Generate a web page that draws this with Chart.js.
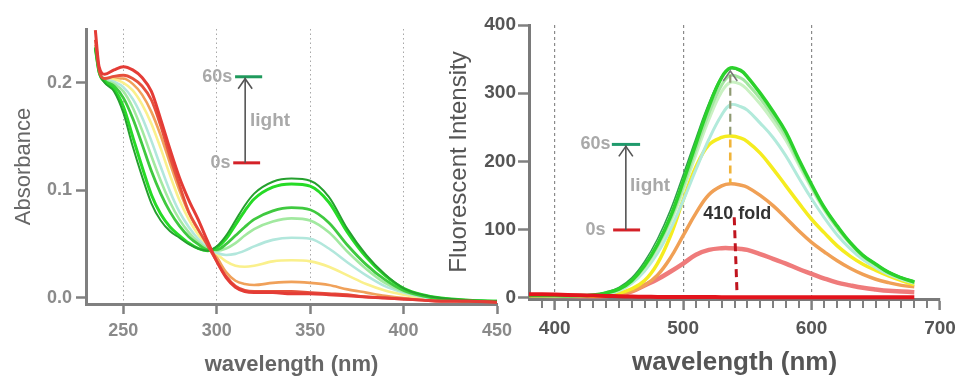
<!DOCTYPE html>
<html>
<head>
<meta charset="utf-8">
<script src="https://cdn.jsdelivr.net/npm/chart.js@4.4.0/dist/chart.umd.min.js"></script>
<style>
    html, body { margin: 0; padding: 0; background: #fff; }
    #wrap { position: relative; width: 960px; height: 378px; overflow: hidden; }
    #absBox { position: absolute; left: 0; top: 0; }
    #flBox { position: absolute; left: 440px; top: 0; }
</style>
</head>
<body>
<div id="wrap">
    <div id="absBox"><canvas id="absChart" width="520" height="378"></canvas></div>
    <div id="flBox"><canvas id="flChart" width="530" height="378"></canvas></div>
</div>
<script>
// ---- Absorbance data (left panel) ----
const absWl = [235, 237, 240, 245, 250, 255, 260, 265, 270, 275, 280, 285, 290, 295, 300, 305, 310, 315, 320, 330, 340, 350, 360, 370, 380, 390, 400, 410, 420, 435, 450];
const absRed0s   = [.249, .215, .208, .212, .215, .212, .205, .192, .166, .138, .112, .091, .073, .053, .034, .019, .010, .006, .005, .005, .004, .004, .003, .002, .001, .000, -.001, -.002, -.003, -.003, -.004];
const absRed2    = [.240, .212, .204, .206, .207, .204, .197, .184, .160, .131, .105, .080, .064, .049, .034, .020, .011, .007, .006, .006, .006, .005, .004, .003, .001, .000, -.001, -.002, -.003, -.003, -.004];
const absOrange  = [.235, .212, .204, .204, .204, .199, .189, .173, .151, .125, .100, .079, .063, .050, .038, .024, .016, .013, .012, .014, .015, .014, .012, .008, .005, .002, .000, -.001, -.002, -.003, -.003];
const absYellow  = [.234, .211, .204, .203, .200, .193, .180, .162, .139, .114, .091, .073, .059, .049, .041, .034, .030, .029, .030, .034, .035, .034, .029, .021, .013, .007, .003, .000, -.002, -.003, -.003];
const absCyan    = [.234, .211, .204, .201, .196, .185, .168, .146, .122, .099, .080, .066, .055, .047, .042, .040, .041, .044, .048, .054, .056, .055, .046, .033, .021, .011, .005, .001, -.001, -.003, -.003];
const absLight   = [.233, .211, .203, .199, .192, .177, .156, .132, .109, .089, .073, .061, .052, .046, .044, .046, .051, .058, .064, .071, .074, .072, .061, .043, .027, .014, .006, .002, -.001, -.003, -.003];
const absMid     = [.233, .210, .202, .197, .186, .167, .143, .118, .097, .080, .067, .057, .050, .045, .045, .050, .058, .066, .073, .081, .084, .082, .070, .049, .031, .017, .007, .002, -.001, -.003, -.003];
const absBright  = [.232, .210, .201, .194, .178, .150, .122, .096, .078, .066, .058, .051, .046, .044, .047, .055, .068, .081, .092, .103, .106, .104, .089, .061, .038, .021, .009, .003, .000, -.002, -.003];
const absDark60s = [.232, .210, .200, .192, .172, .141, .113, .088, .072, .062, .056, .050, .046, .044, .048, .058, .072, .086, .097, .108, .111, .109, .094, .064, .040, .022, .009, .003, .000, -.002, -.003];
const absTicksX = [250, 300, 350, 400, 450];
const absTicksY = [0, 0.1, 0.2];

// ---- Fluorescence data (right panel) ----
const flWl = [380, 400, 420, 430, 440, 450, 460, 470, 480, 490, 500, 510, 520, 530, 537, 545, 550, 560, 570, 580, 590, 600, 610, 620, 630, 640, 650, 660, 670, 680];
const flRed0s   = [5, 4.5, 3.5, 3, 2.5, 2, 1.6, 1.3, 1.1, 1, 0.9, 0.8, 0.8, 0.7, 0.7, 0.7, 0.7, 0.6, 0.6, 0.6, 0.6, 0.5, 0.5, 0.5, 0.5, 0.5, 0.5, 0.5, 0.5, 0.5];
const flSalmon  = [3, 2.5, 2, 2, 2.5, 4, 9, 18, 27, 38, 50, 63, 70, 72.5, 72.5, 71.5, 70, 64, 57, 50, 42, 35, 28, 22, 18, 14.5, 12, 10, 9, 8];
const flOrange  = [3, 2.5, 2, 2, 2.5, 4, 9.5, 18, 33, 58, 91, 124, 151, 164, 167, 165, 162, 150, 135, 117, 98, 81, 67, 54, 43, 34, 27, 22, 18, 16];
const flYellow  = [3, 2.5, 2, 2, 3.5, 6.5, 13, 25, 50, 90, 143, 192, 224, 235, 237, 234, 229, 212, 189, 164, 139, 115, 95, 76, 61, 49, 40, 32, 25, 19];
const flCyan    = [3, 2.5, 2.5, 3, 5, 10, 21, 39, 65, 100, 142, 188, 232, 268, 283, 280, 275, 256, 235, 208, 176, 145, 117, 92, 72, 56, 44, 34, 27, 21];
const flPale    = [3, 3, 3, 4, 6, 11, 23, 43, 72, 110, 157, 210, 261, 302, 316, 313, 305, 284, 259, 231, 195, 160, 128, 101, 79, 60, 47, 36, 28, 22];
const flLight   = [3, 3, 3, 4, 7, 12, 24, 45, 75, 114, 163, 218, 270, 312, 326, 322, 314, 292, 266, 237, 199, 163, 130, 103, 80, 61, 48, 37, 29, 22];
const flGreen   = [3, 3, 3, 4, 7, 12.5, 25, 47, 78, 118, 170, 226, 280, 323, 337, 333, 324, 300, 273, 243, 203, 166, 132, 105, 81, 62, 49, 37, 29, 23];
const flDark60s = [3, 3, 3, 4, 8, 15, 29, 53, 86, 128, 180, 234, 285, 325, 336, 332, 323, 299, 272, 242, 203, 166, 133, 106, 82, 63, 50, 38, 30, 24];
const flTicksX = [400, 500, 600, 700];
const flTicksY = [0, 100, 200, 300, 400];

const fontFamily = "'Liberation Sans', Arial, sans-serif";
Chart.defaults.font.family = fontFamily;

// Helper to turn a wavelength list + values into a line dataset
function makeSet(wl, vals, color, width, smooth) {
    const set = {
        data: wl.map((w, i) => ({ x: w, y: vals[i] })),
        borderColor: color,
        borderWidth: width,
        pointRadius: 0,
        fill: false,
        clip: 6
    };
    if (smooth) {
        set.tension = 0.4;
    } else {
        set.cubicInterpolationMode = 'monotone';
    }
    return set;
}

function arrowUp(ctx, x, yFrom, yTo, color) {
    ctx.strokeStyle = color;
    ctx.lineWidth = 1.6;
    ctx.beginPath();
    ctx.moveTo(x, yFrom);
    ctx.lineTo(x, yTo);
    ctx.stroke();
    ctx.beginPath();
    ctx.moveTo(x - 7, yTo + 11);
    ctx.lineTo(x, yTo + 1);
    ctx.lineTo(x + 7, yTo + 11);
    ctx.stroke();
}

function hLine(ctx, x1, x2, y, color) {
    ctx.strokeStyle = color;
    ctx.lineWidth = 3;
    ctx.beginPath();
    ctx.moveTo(x1, y);
    ctx.lineTo(x2, y);
    ctx.stroke();
}

function label(ctx, text, x, y, align, color, size) {
    ctx.font = `bold ${size}px ${fontFamily}`;
    ctx.fillStyle = color;
    ctx.textAlign = align;
    ctx.textBaseline = 'middle';
    ctx.fillText(text, x, y);
}

// Annotations for the absorbance panel
const absNotes = {
    id: 'absNotes',
    afterDraw(chart) {
        const { ctx, scales: { x, y } } = chart;
        ctx.save();
        const y60 = y.getPixelForValue(0.2056);
        const y0 = y.getPixelForValue(0.1256);
        hLine(ctx, x.getPixelForValue(309.8), x.getPixelForValue(324.3), y60, '#1f9a5c');
        hLine(ctx, x.getPixelForValue(308.8), x.getPixelForValue(323.2), y0, '#d42128');
        arrowUp(ctx, x.getPixelForValue(315.2), y0, y60 + 1, '#555');
        label(ctx, '60s', x.getPixelForValue(308.3), y60, 'right', '#a9a9a9', 18);
        label(ctx, '0s', x.getPixelForValue(307.3), y0, 'right', '#a9a9a9', 18);
        label(ctx, 'light', x.getPixelForValue(317.8), y.getPixelForValue(0.1647), 'left', '#a9a9a9', 19);
        ctx.restore();
    }
};

// Annotations + minor ticks for the fluorescence panel
const flNotes = {
    id: 'flNotes',
    afterDraw(chart) {
        const { ctx, scales: { x, y } } = chart;
        ctx.save();
        // minor ticks every 10 nm
        ctx.strokeStyle = '#808080';
        ctx.lineWidth = 2;
        for (let v = 390; v < 700; v += 10) {
            if (v % 100 === 0) continue;
            const px = Math.round(x.getPixelForValue(v));
            ctx.beginPath();
            ctx.moveTo(px, y.bottom + 2);
            ctx.lineTo(px, y.bottom + 9);
            ctx.stroke();
        }
        const y60 = y.getPixelForValue(224.8);
        const y0 = y.getPixelForValue(99.3);
        hLine(ctx, x.getPixelForValue(444.5), x.getPixelForValue(466.5), y60, '#1f9a6c');
        hLine(ctx, x.getPixelForValue(445.5), x.getPixelForValue(466.5), y0, '#d42128');
        arrowUp(ctx, x.getPixelForValue(455.4), y0, y60 + 1, '#555');
        label(ctx, '60s', x.getPixelForValue(443.5), y60, 'right', '#a9a9a9', 18);
        label(ctx, '0s', x.getPixelForValue(439.5), y0, 'right', '#a9a9a9', 18);
        label(ctx, 'light', x.getPixelForValue(458.7), y.getPixelForValue(164), 'left', '#a9a9a9', 19);

        // peak marker: dashed segments and arrow
        const xp = x.getPixelForValue(536.7);
        ctx.setLineDash([8, 5]);
        ctx.lineWidth = 2.2;
        ctx.strokeStyle = '#8f9a72';
        ctx.beginPath();
        ctx.moveTo(xp, y.getPixelForValue(239));
        ctx.lineTo(xp, y.getPixelForValue(334));
        ctx.stroke();
        ctx.strokeStyle = '#f0b43a';
        ctx.lineWidth = 2.6;
        ctx.beginPath();
        ctx.moveTo(xp, y.getPixelForValue(232));
        ctx.lineTo(xp, y.getPixelForValue(168));
        ctx.stroke();
        label(ctx, '410 fold', x.getPixelForValue(515.6), y.getPixelForValue(122.6), 'left', '#333', 18);
        ctx.strokeStyle = '#c0141e';
        ctx.lineWidth = 3;
        ctx.beginPath();
        ctx.moveTo(x.getPixelForValue(539.8), y.getPixelForValue(118));
        ctx.lineTo(x.getPixelForValue(541.9), y.getPixelForValue(10));
        ctx.stroke();
        ctx.setLineDash([]);
        ctx.strokeStyle = '#777';
        ctx.lineWidth = 1.6;
        ctx.beginPath();
        ctx.moveTo(xp - 7, y.getPixelForValue(334) + 11);
        ctx.lineTo(xp, y.getPixelForValue(334) + 1);
        ctx.lineTo(xp + 7, y.getPixelForValue(334) + 11);
        ctx.stroke();
        ctx.restore();
    }
};

new Chart(document.getElementById('absChart').getContext('2d'), {
    type: 'line',
    data: {
        datasets: [
            makeSet(absWl, absRed0s, '#e43c36', 3),
            makeSet(absWl, absRed2, '#e6503c', 2.8),
            makeSet(absWl, absDark60s, '#25a02e', 2),
            makeSet(absWl, absBright, '#26db26', 3),
            makeSet(absWl, absMid, '#3fc93f', 2.8),
            makeSet(absWl, absLight, '#a2e9a0', 2.6),
            makeSet(absWl, absCyan, '#b2e7dc', 2.6),
            makeSet(absWl, absYellow, '#faf08c', 2.6),
            makeSet(absWl, absOrange, '#f0a15a', 2.6)
        ]
    },
    options: {
        responsive: false,
        animation: false,
        devicePixelRatio: 1,
        layout: { padding: { left: 0, right: 23, top: 29, bottom: 0 } },
        plugins: { legend: { display: false }, tooltip: { enabled: false } },
        scales: {
            x: {
                type: 'linear',
                min: 230,
                max: 450,
                afterBuildTicks: s => { s.ticks = absTicksX.map(v => ({ value: v })); },
                afterFit: s => { s.height = 74; },
                grid: {
                    color: c => (c.tick && c.tick.value < 450) ? '#a8a8a8' : 'rgba(0,0,0,0)',
                    lineWidth: 1,
                    tickColor: '#808080',
                    tickLength: 10,
                    tickWidth: 2.5
                },
                border: { color: '#808080', width: 3, dash: [1.5, 3] },
                ticks: { color: '#8a8a8a', font: { size: 18, weight: 'bold' }, padding: 6, maxRotation: 0 },
                title: { display: true, text: 'wavelength (nm)', color: '#666', font: { size: 22, weight: 'bold' }, padding: { top: 0, bottom: 0 } }
            },
            y: {
                min: -0.0056,
                max: 0.25,
                afterBuildTicks: s => { s.ticks = absTicksY.map(v => ({ value: v })); },
                afterFit: s => { s.width = 86; },
                grid: { drawOnChartArea: false, tickColor: '#808080', tickLength: 10, tickWidth: 2.5 },
                border: { color: '#808080', width: 3 },
                ticks: { color: '#8a8a8a', font: { size: 18, weight: 'bold' }, padding: 4, callback: v => v.toFixed(1) },
                title: { display: true, text: 'Absorbance', color: '#666', font: { size: 22 }, padding: { top: 11, bottom: 0 } }
            }
        }
    },
    plugins: [absNotes]
});

new Chart(document.getElementById('flChart').getContext('2d'), {
    type: 'line',
    data: {
        datasets: [
            makeSet(flWl, flRed0s, '#e3141c', 4, true),
            makeSet(flWl, flGreen, '#2bd12b', 3.5, true),
            makeSet(flWl, flDark60s, '#2f9e4e', 1.5, true),
            makeSet(flWl, flLight, '#a3e6a0', 3, true),
            makeSet(flWl, flPale, '#c9f1c2', 3, true),
            makeSet(flWl, flCyan, '#b2eadb', 3, true),
            makeSet(flWl, flYellow, '#f5ec1f', 3.5, true),
            makeSet(flWl, flOrange, '#f0a055', 3.5, true),
            makeSet(flWl, flSalmon, '#ef7b7b', 4.5, true)
        ]
    },
    options: {
        responsive: false,
        animation: false,
        devicePixelRatio: 1,
        // canvas runs past the page edge; right padding puts the axis end at x=940
        layout: { padding: { left: 0, right: 30, top: 25, bottom: 0 } },
        plugins: { legend: { display: false }, tooltip: { enabled: false } },
        scales: {
            x: {
                type: 'linear',
                min: 380,
                max: 700,
                afterBuildTicks: s => { s.ticks = flTicksX.map(v => ({ value: v })); },
                afterFit: s => { s.height = 79; },
                grid: {
                    color: c => (c.tick && c.tick.value < 700) ? '#8a8a8a' : 'rgba(0,0,0,0)',
                    lineWidth: 1.2,
                    tickColor: '#808080',
                    tickLength: 11,
                    tickWidth: 2.5
                },
                border: { color: '#7a7a7a', width: 3, dash: [3, 3] },
                ticks: { color: '#555', font: { size: 19, weight: 'bold' }, padding: 7, maxRotation: 0 },
                title: { display: true, text: 'wavelength (nm)', color: '#555', font: { size: 26, weight: 'bold' }, padding: { top: 0, bottom: 0 } }
            },
            y: {
                min: -2,
                max: 400,
                afterBuildTicks: s => { s.ticks = flTicksY.map(v => ({ value: v })); },
                afterFit: s => { s.width = 89; },
                grid: { drawOnChartArea: false, tickColor: '#808080', tickLength: 11, tickWidth: 2.5 },
                border: { color: '#7a7a7a', width: 3 },
                ticks: { color: '#555', font: { size: 19, weight: 'bold' }, padding: 2 },
                title: { display: true, text: 'Fluorescent Intensity', color: '#555', font: { size: 24 }, padding: { top: 5, bottom: 0 } }
            }
        }
    },
    plugins: [flNotes]
});
</script>
</body>
</html>
